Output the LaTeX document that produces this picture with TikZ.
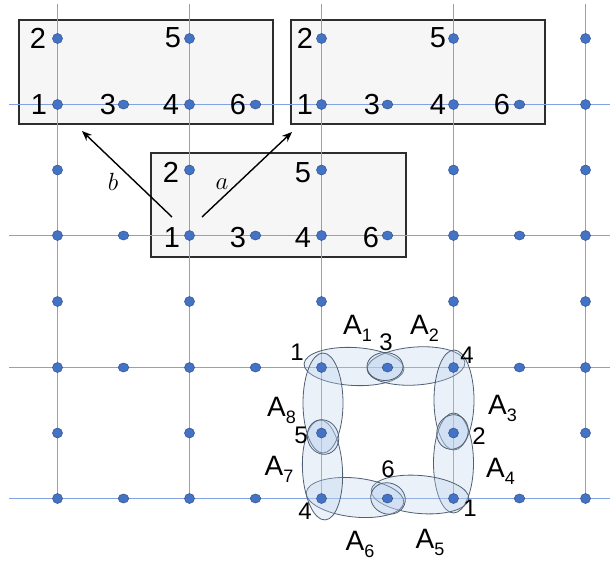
\documentclass[tikz,border=0pt]{standalone}
\usepackage{fontspec}
\setmainfont{Liberation Sans}
\usetikzlibrary{arrows.meta,shapes.geometric}
\definecolor{gridc}{RGB}{130,162,225}
\definecolor{dotf}{RGB}{68,114,196}
\definecolor{dotd}{RGB}{47,82,143}
\definecolor{boxf}{RGB}{246,246,246}
\definecolor{boxd}{RGB}{45,45,45}
\definecolor{hypf}{RGB}{185,208,236}
\definecolor{hypd}{RGB}{80,95,115}
\newcommand{\Asub}[1]{A\raisebox{-7pt}{\fontsize{18}{18}\selectfont #1}}
\begin{document}
\begin{tikzpicture}[x=1pt,y=-1pt,
  gridline/.style={draw=gridc, line width=1.2pt},
  dot/.style={circle, fill=dotf, draw=dotd, line width=0.5pt, inner sep=0pt, minimum size=10pt},
  panel/.style={rectangle, draw=boxd, fill=boxf, line width=1.1pt, inner sep=0pt},
  bignum/.style={font=\fontsize{29}{29}\selectfont, inner sep=0pt},
  num/.style={font=\fontsize{24}{24}\selectfont, inner sep=0pt},
  elab/.style={font=\fontsize{28}{28}\selectfont, inner sep=0pt},
  hyper/.style={ellipse, draw=hypd, fill=hypf, fill opacity=0.3, line width=0.8pt, inner sep=0pt},
  arr/.style={-{Stealth[length=10pt,width=8pt]}, line width=1.4pt},
  alab/.style={font=\fontsize{25}{25}\selectfont, inner sep=0pt}
]
\useasboundingbox (0,0) rectangle (610,565);

% panels
\node[panel, minimum width=254pt, minimum height=104pt] (P1) at (146,72) {};
\node[panel, minimum width=254pt, minimum height=104pt] (P2) at (418,72) {};
\node[panel, minimum width=255pt, minimum height=104pt] (P3) at (278.5,205) {};

% grid lines
\foreach \x in {57.5,189.5,321.5,453.5,585.5} \draw[gridline] (\x,4) -- (\x,498.5);
\foreach \y in {104.5,235.5,367.5,498.5} \draw[gridline] (9,\y) -- (610,\y);

% hyperedges
\node[hyper, minimum width=100pt, minimum height=38pt, rotate=-3] (E1) at (354,366.5) {};
\node[hyper, minimum width=98pt, minimum height=38pt, rotate=4] (E2) at (416,366) {};
\node[hyper, minimum width=40pt, minimum height=100pt] (E3) at (454,400) {};
\node[hyper, minimum width=40pt, minimum height=100pt] (E4) at (453.5,463) {};
\node[hyper, minimum width=98pt, minimum height=38pt, rotate=-5] (E5) at (420,494.5) {};
\node[hyper, minimum width=98pt, minimum height=39pt, rotate=-6] (E6) at (355,497.5) {};
\node[hyper, minimum width=40pt, minimum height=100pt, rotate=3] (E7) at (322.5,470) {};
\node[hyper, minimum width=40pt, minimum height=100pt] (E8) at (323,403) {};
\node[hyper, minimum width=36pt, minimum height=28pt] (S3) at (385,366.5) {};
\node[hyper, minimum width=31pt, minimum height=35pt, rotate=20] (S5) at (323,437) {};
\node[hyper, minimum width=31pt, minimum height=35pt, rotate=-20] (S2) at (452.5,432) {};
\node[hyper, minimum width=35pt, minimum height=31pt, rotate=-20] (S6) at (388,498.5) {};

% dots
\foreach \x [count=\i] in {57.5,189.5,321.5,453.5,585.5} {
  \foreach \y [count=\j] in {104.5,235.5,367.5,498.5} {
    \node[dot] (n\i-\j) at (\x,\y) {};
  }
  \foreach \y [count=\j] in {38.5,170,301.5,433} {
    \node[dot] (v\i-\j) at (\x,\y) {};
  }
}
\foreach \x [count=\i] in {123.5,255.5,387.5,519.5} {
  \foreach \y [count=\j] in {104.5,235.5,367.5,498.5} {
    \node[dot, minimum width=10.5pt, minimum height=9pt, ellipse] (h\i-\j) at (\x,\y) {};
  }
}

% panel labels
\node[bignum] (p1l2) at (38,38) {2};
\node[bignum] (p1l5) at (173,38) {5};
\node[bignum] (p1l1) at (39,105) {1};
\node[bignum] (p1l3) at (108,105) {3};
\node[bignum] (p1l4) at (171,105) {4};
\node[bignum] (p1l6) at (238,105) {6};

\node[bignum] (p2l2) at (305,38) {2};
\node[bignum] (p2l5) at (438,38) {5};
\node[bignum] (p2l1) at (305,105) {1};
\node[bignum] (p2l3) at (372,105) {3};
\node[bignum] (p2l4) at (438,105) {4};
\node[bignum] (p2l6) at (502,105) {6};

\node[bignum] (p3l2) at (171,172.5) {2};
\node[bignum] (p3l5) at (303,172.5) {5};
\node[bignum] (p3l1) at (172,238) {1};
\node[bignum] (p3l3) at (238,238) {3};
\node[bignum] (p3l4) at (303,238) {4};
\node[bignum] (p3l6) at (371,238) {6};

% arrows
\coordinate (bs) at (172,217);
\coordinate (bt) at (82,131);
\coordinate (as) at (202,217);
\coordinate (at) at (292,132);
\draw[arr] (bs) -- (bt);
\draw[arr] (as) -- (at);
\node[alab] (lb) at (113,182) {$b$};
\node[alab] (la) at (222,184) {$a$};

% hypergraph vertex labels
\node[num] (q1) at (297,352) {1};
\node[num] (q3) at (386,342) {3};
\node[num] (q4) at (467,355) {4};
\node[num] (q2) at (479,436) {2};
\node[num] (q1b) at (470,508) {1};
\node[num] (q5) at (301,435) {5};
\node[num] (q6) at (388,469) {6};
\node[num] (q4b) at (305,511) {4};

% hyperedge labels
\node[elab] (a1) at (357.5,328.5) {\Asub{1}};
\node[elab] (a2) at (424.5,328.5) {\Asub{2}};
\node[elab] (a3) at (502.5,408) {\Asub{3}};
\node[elab] (a4) at (500.5,471) {\Asub{4}};
\node[elab] (a5) at (430,542.5) {\Asub{5}};
\node[elab] (a6) at (360,544) {\Asub{6}};
\node[elab] (a7) at (279,469) {\Asub{7}};
\node[elab] (a8) at (281.5,410.5) {\Asub{8}};
\end{tikzpicture}
\end{document}
